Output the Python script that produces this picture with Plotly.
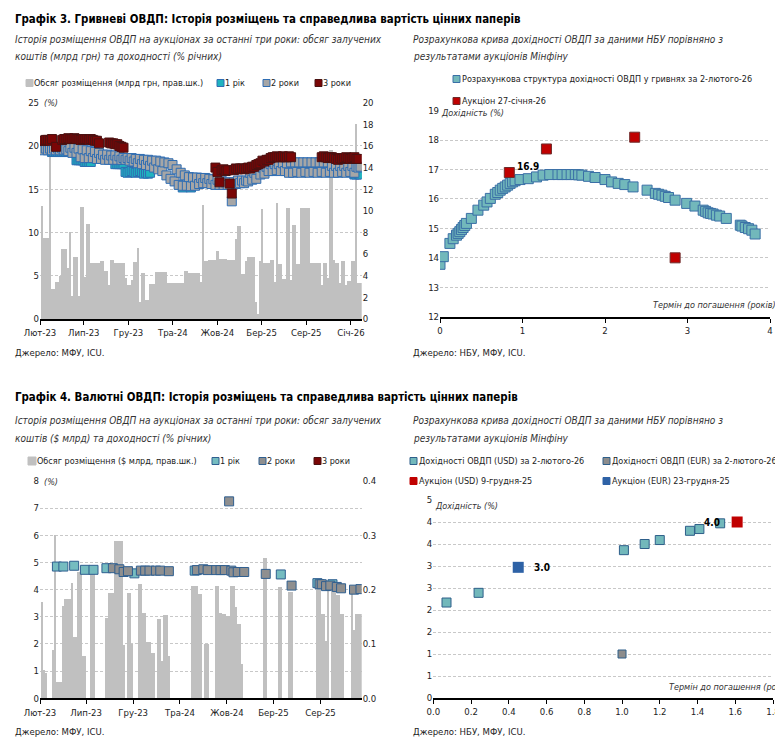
import pandas as pd
import plotly.graph_objects as go

PAGE_W, PAGE_H = 783, 750
OFF = 8  # browser body margin
W, H = PAGE_W - OFF, PAGE_H - OFF
FONT = "Liberation Sans Narrow, Arial Narrow, DejaVu Sans Condensed, sans-serif"

# ================= Графік 3, left: UAH auctions (weekly) =================
uah_first_week = "2023-02-07"
uah_volume = [
    10.5, 7.5, 7.5, 7.5, 15.9, 2.8, 2.8, 3.45, 3.45, 4.0,
    6.5, 6.5, 6.5, 4.7, 8.1, 2.2, 5.8, 5.8, 2.2, 10.4,
    10.4, 3.9, 8.8, 8.8, 5.2, 5.2, 5.2, 5.2, 5.2, 5.4,
    5.4, 4.5, 4.5, 3.2, 5.5, 5.5, 5.2, 5.2, 5.2, 5.2,
    5.2, 3.8, 3.2, 3.2, 3.6, 5.3, 5.3, 6.6, 1.6, 4.3,
    4.3, 1.8, 1.8, 3.3, 3.3, 3.3, 4.4, 4.4, 4.4, 4.4,
    4.4, 4.4, 3.4, 3.4, 3.4, 3.4, 3.4, 3.4, 3.4, 3.4,
    4.5, 4.5, 4.3, 4.3, 4.3, 4.3, 4.3, 4.3, 3.45, 10.6,
    5.4, 5.4, 5.5, 5.5, 5.5, 5.5, 6.3, 5.55, 5.55, 5.55,
    5.55, 5.45, 5.45, 5.45, 5.45, 7.4, 8.6, 8.6, 4.2, 4.2,
    5.4, 5.8, 5.8, 5.8, 5.8, 1.6, 0.5, 5.4, 10.2, 5.2,
    5.2, 5.2, 5.5, 5.5, 3.45, 10.8, 5.1, 5.1, 3.7, 3.7,
    10.3, 10.3, 3.6, 8.7, 8.7, 5.1, 5.1, 10.3, 10.3, 10.3,
    10.3, 10.3, 5.2, 5.2, 5.2, 5.2, 5.2, 3.15, 5.2, 5.2,
    3.8, 15.7, 15.7, 5.45, 5.2, 5.2, 3.4, 5.4, 5.4, 3.15,
    3.5, 3.5, 5.4, 5.4, 18.1, 3.4, 3.4,
]
N = None
uah_1y = [
    N, N, N, N, N, 19.3, 19.3, 19.3, 19.3, 19.3,
    19.3, 19.3, 19.3, 19.3, N, N, N, 18.35, 18.35, 18.35,
    18.35, 18.15, 18.15, 18.15, 18.15, N, N, N, N, N,
    N, N, N, N, N, N, 17.9, 17.9, 17.9, 17.9,
    17.9, 17.0, 16.9, 17.0, 17.1, 17.0, 16.9, 17.0, 17.1, 17.0,
    16.8, 16.9, 16.8, 16.9, N, N, N, N, N, N,
    N, N, N, N, N, N, N, N, N, 15.2,
    N, N, N, 15.2, N, N, N, N, N, N,
    N, N, N, N, N, N, N, N, N, N,
    N, N, N, N, N, N, N, N, N, N,
    N, N, N, N, N, N, N, N, N, N,
    N, N, N, N, N, N, N, N, N, N,
    N, N, N, N, N, N, N, N, N, N,
    N, N, N, N, N, N, N, N, N, N,
    N, N, N, N, N, N, N, N, N, N,
    N, N, N, 16.7, 16.7, 16.8, 16.7,
]
uah_2y = [
    19.7, 19.5, 19.7, 19.5, 19.7, 19.5, 19.7, 19.5, 19.7, 19.5,
    19.7, 19.5, 19.6, 19.4, 19.8, 19.2, 19.8, 19.2, 19.7, 18.7,
    19.6, 18.6, 19.5, 18.6, 19.4, 18.6, 19.3, 18.5, 19.2, 18.5,
    19.0, 18.4, 19.0, 18.4, 18.9, 18.4, 18.9, 18.4, 18.8, 18.4,
    18.6, 18.4, 18.6, 18.3, 18.6, 18.2, 18.5, 18.0, 18.5, 17.9,
    18.4, 17.8, 18.4, 17.7, 18.3, 17.5, 18.3, 17.3, 18.2, 17.1,
    18.1, 16.6, 18.0, 16.2, 17.8, 15.9, 17.3, 15.5, 16.9, 15.4,
    16.6, 15.4, 16.4, 15.35, 16.35, 15.4, 16.35, 15.6, 16.3, 15.7,
    16.3, 15.7, 16.2, 15.6, 16.15, 15.5, 16.1, 15.5, 16.0, 15.5,
    15.8, 15.5, 15.8, 13.6, 15.8, 15.6, 16.0, 15.7, 16.0, 15.7,
    16.0, 15.9, 16.9, 16.1, 16.9, 16.2, 17.5, 16.7, 17.5, 16.8,
    17.6, 17.1, 17.9, 17.1, 17.9, 17.2, 17.9, 17.1, 18.0, 17.1,
    18.0, 16.9, 18.1, 16.9, 18.1, 17.0, 18.1, 16.9, 18.1, 17.0,
    18.1, 16.9, 18.1, 17.0, 18.1, 16.9, 18.1, 17.0, 18.1, 16.9,
    18.1, 17.0, 17.7, 16.9, 17.7, 16.9, 17.7, 17.0, 17.7, 16.9,
    17.7, 17.0, 17.7, 16.9, 17.6, 17.5, 17.6,
]
uah_3y = [
    20.6, 20.6, 20.7, 20.7, 20.6, 20.8, N, 19.9, N, N,
    20.7, 20.8, 20.8, 20.9, 20.8, 20.8, 20.9, 20.8, 20.8, 20.7,
    20.8, 20.8, 20.8, 20.7, 20.8, 20.7, 20.6, 20.6, 20.3, N,
    N, N, N, 20.4, 20.3, 20.3, 20.2, 20.2, 20.0, 19.9,
    19.8, N, N, N, N, N, N, N, N, N,
    N, N, N, N, N, N, N, N, N, N,
    N, N, N, N, N, N, N, N, N, N,
    N, N, N, N, N, N, N, N, N, N,
    N, N, N, N, N, 17.5, 17.0, 15.8, 17.2, 17.3,
    17.1, 17.2, 15.65, 14.5, 17.2, 17.4, 17.3, 17.4, 17.4, 17.3,
    17.4, 17.5, 17.4, 17.6, 17.6, 17.8, 17.9, 18.0, 18.3, 18.2,
    18.4, 18.4, 18.6, 18.7, 18.7, 18.8, 18.7, 18.7, 18.8, 18.7,
    18.7, 18.8, 18.7, N, N, N, N, N, N, N,
    N, N, N, N, N, N, N, 18.7, 18.8, 18.7,
    18.6, 18.7, 18.7, 18.6, 18.5, 18.4, 18.6, 18.5, 18.6, 18.7,
    18.6, 18.5, 18.6, 18.7, 18.5, 18.5, N,
]
uah_tick_dates = ["2023-02-01", "2023-07-01", "2023-12-01", "2024-05-01",
                  "2024-10-01", "2025-03-01", "2025-08-01", "2026-01-01"]
uah_tick_text = ["Лют-23", "Лип-23", "Гру-23", "Тра-24", "Жов-24", "Бер-25", "Сер-25", "Січ-26"]

# ================= Графік 3, right: NBU UAH curve =================
curve_term = [0.00, 0.04, 0.12, 0.16, 0.20, 0.22, 0.24, 0.26, 0.28, 0.30, 0.32, 0.38,
              0.46, 0.53, 0.57, 0.61, 0.67, 0.70, 0.73, 0.76, 0.79, 0.82, 0.85, 0.88,
              0.91, 0.97, 1.07, 1.17, 1.25, 1.33, 1.43, 1.48, 1.54, 1.59, 1.64, 1.68,
              1.72, 1.80, 1.88, 2.00, 2.08, 2.16, 2.24, 2.34, 2.51, 2.61, 2.65, 2.69,
              2.73, 2.77, 2.85, 2.99, 3.09, 3.19, 3.22, 3.25, 3.28, 3.31, 3.35, 3.39,
              3.47, 3.64, 3.66, 3.70, 3.74, 3.78, 3.82]
curve_yield = [13.78, 14.04, 14.49, 14.65, 14.77, 14.83, 14.89, 14.96, 15.03, 15.10, 15.17, 15.34,
               15.62, 15.79, 15.90, 16.02, 16.16, 16.22, 16.30, 16.36, 16.41, 16.47, 16.53, 16.58,
               16.62, 16.66, 16.69, 16.75, 16.81, 16.83, 16.83, 16.83, 16.83, 16.83, 16.83, 16.82,
               16.81, 16.77, 16.73, 16.66, 16.58, 16.53, 16.49, 16.41, 16.30, 16.19, 16.16, 16.13,
               16.09, 16.05, 15.96, 15.85, 15.76, 15.62, 15.58, 15.53, 15.51, 15.49, 15.45, 15.42,
               15.34, 15.11, 15.08, 15.03, 14.99, 14.94, 14.81]
auction_term = [0.84, 1.29, 2.36, 2.85]
auction_yield = [16.9, 17.7, 18.1, 14.0]

# ================= Графік 4, left: FX auctions (weekly) =================
fx_first_week = "2023-02-07"
fx_volume = [
    0.178, 0.053, 0.047, 0, 0, 0.088, 0.30, 0.03, 0.03, 0.03,
    0.169, 0.183, 0.183, 0.183, 0.212, 0.112, 0.112, 0.233, 0.233, 0.078,
    0.078, 0, 0, 0.23, 0.23, 0, 0, 0, 0, 0,
    0.147, 0.193, 0.193, 0.193, 0.289, 0.289, 0.289, 0.289, 0.098, 0,
    0.193, 0.193, 0.1, 0, 0, 0.21, 0.21, 0.157, 0.157, 0.104,
    0.104, 0.083, 0.083, 0, 0.146, 0.146, 0.068, 0.153, 0.153, 0.077,
    0, 0, 0, 0, 0, 0, 0, 0, 0, 0,
    0.207, 0.207, 0.207, 0.192, 0.192, 0, 0.1, 0.1, 0, 0,
    0, 0.207, 0.207, 0.157, 0.155, 0.155, 0.152, 0.152, 0.207, 0.207,
    0.168, 0.137, 0.137, 0.063, 0, 0, 0, 0, 0, 0,
    0, 0, 0, 0.258, 0.258, 0, 0, 0, 0, 0,
    0.204, 0.204, 0, 0, 0, 0.196, 0.196, 0, 0, 0,
    0, 0, 0, 0, 0, 0, 0, 0, 0.204, 0.204,
    0.155, 0.155, 0.106, 0.204, 0, 0.204, 0.204, 0.19, 0.19, 0.155,
    0.155, 0, 0, 0, 0.196, 0.125, 0.155, 0.155, 0.155,
]
fx_1y = [
    N, N, N, N, N, N, N, 4.85, N, N,
    4.85, N, N, N, N, 4.88, N, N, N, N,
    4.73, N, N, N, 4.73, N, N, N, N, N,
    4.79, N, N, N, N, N, N, N, N, N,
    N, N, N, 4.6, N, N, N, N, N, N,
    N, N, N, N, N, N, N, N, N, N,
    N, N, N, N, N, N, N, N, N, N,
    N, 4.70, N, N, N, N, N, N, N, N,
    N, N, N, N, N, N, N, N, N, N,
    N, N, N, N, N, N, N, N, N, N,
    N, N, N, N, N, N, N, N, N, N,
    N, 4.56, N, N, N, N, N, N, N, N,
    N, N, N, N, N, N, N, N, 4.24, N,
    N, N, N, N, N, 4.2, N, N, N, N,
    N, N, N, N, N, N, N, N, N,
]
fx_2y = [
    N, N, N, N, N, N, N, N, N, N,
    N, N, N, N, N, N, N, N, N, N,
    N, N, N, N, N, N, N, N, N, N,
    N, N, N, 4.79, N, N, 4.75, N, 4.65, N,
    4.68, N, N, N, N, N, 4.70, N, 4.70, N,
    4.70, N, N, 4.70, N, 4.70, N, N, N, 4.68,
    N, N, N, N, N, N, N, N, N, N,
    N, N, 4.72, N, N, 4.75, N, 4.72, N, N,
    N, 4.72, N, 4.72, N, 4.72, N, 7.25, 4.70, 4.64,
    N, 4.65, N, N, 4.65, N, N, N, N, N,
    N, N, N, N, 4.58, N, N, N, N, N,
    N, N, N, N, N, N, 4.15, N, N, N,
    N, N, N, N, N, N, N, N, N, 4.2,
    4.2, N, 4.13, N, 4.15, N, N, 4.1, N, 4.05,
    N, N, N, N, N, 4.0, N, N, 4.02,
]
fx_tick_dates = uah_tick_dates[:7]
fx_tick_text = uah_tick_text[:7]

# ================= Графік 4, right: NBU FX curve =================
usd_term = [0.07, 0.24, 1.01, 1.12, 1.20, 1.36, 1.41, 1.52]
usd_yield = [2.17, 2.39, 3.36, 3.50, 3.59, 3.80, 3.84, 3.97]
eur_term = [1.00]
eur_yield = [1.00]
usd_auc_term = [1.61]
usd_auc_yield = [4.0]
eur_auc_term = [0.45]
eur_auc_yield = [2.97]
fx_curve_ytick_vals = [0, 0.5, 1, 1.5, 2, 2.5, 3, 3.5, 4, 4.5]
fx_curve_ytick_text = ["0", "1", "1", "2", "2", "3", "3", "4", "4", "5"]


# ================= helpers (page pixels -> paper fractions) =================
def X(p):
    return (p - OFF) / W


def Y(p):
    return 1 - (p - OFF) / H


uah_dates = pd.date_range(uah_first_week, periods=len(uah_volume), freq="7D")
fx_dates = pd.date_range(fx_first_week, periods=len(fx_volume), freq="7D")

C_BAR = "#c0c0c0"
C_GRID = "#c8c8c8"
TXT = "#333333"
TICKF = dict(family=FONT, size=9.5, color="#222222")

fig = go.Figure()

# ---- top-left ----
fig.add_trace(go.Bar(x=uah_dates, y=uah_volume, marker=dict(color=C_BAR, line=dict(width=0)),
                     xaxis="x", yaxis="y"))
fig.add_trace(go.Scatter(x=uah_dates, y=uah_1y, mode="markers", xaxis="x", yaxis="y2",
                         marker=dict(symbol="square", size=9, color="#1fb3bf",
                                     line=dict(color="#2f6db3", width=1))))
fig.add_trace(go.Scatter(x=uah_dates, y=uah_2y, mode="markers", xaxis="x", yaxis="y2",
                         marker=dict(symbol="square", size=9, color="#a6a6a6",
                                     line=dict(color="#2f6db3", width=1))))
fig.add_trace(go.Scatter(x=uah_dates, y=uah_3y, mode="markers", xaxis="x", yaxis="y2",
                         marker=dict(symbol="square", size=9, color="#7a0606",
                                     line=dict(color="#4a1212", width=1))))

# ---- top-right ----
fig.add_trace(go.Scatter(x=curve_term, y=curve_yield, mode="markers", xaxis="x2", yaxis="y3",
                         marker=dict(symbol="square", size=10, color="#72b8bb",
                                     line=dict(color="#3a6fa6", width=1))))
fig.add_trace(go.Scatter(x=auction_term, y=auction_yield, mode="markers", xaxis="x2", yaxis="y3",
                         marker=dict(symbol="square", size=10, color="#c00000",
                                     line=dict(color="#6e2b2b", width=1))))

# ---- bottom-left ----
fig.add_trace(go.Bar(x=fx_dates, y=fx_volume, marker=dict(color=C_BAR, line=dict(width=0)),
                     xaxis="x3", yaxis="y4"))
fig.add_trace(go.Scatter(x=fx_dates, y=fx_1y, mode="markers", xaxis="x3", yaxis="y5",
                         marker=dict(symbol="square", size=9, color="#75bcc0",
                                     line=dict(color="#2f5f90", width=1))))
fig.add_trace(go.Scatter(x=fx_dates, y=fx_2y, mode="markers", xaxis="x3", yaxis="y5",
                         marker=dict(symbol="square", size=9, color="#8f8f8f",
                                     line=dict(color="#2f5f90", width=1))))

# ---- bottom-right ----
fig.add_trace(go.Scatter(x=usd_term, y=usd_yield, mode="markers", xaxis="x4", yaxis="y6",
                         marker=dict(symbol="square", size=9, color="#72b8bb",
                                     line=dict(color="#2e5f8a", width=1))))
fig.add_trace(go.Scatter(x=eur_term, y=eur_yield, mode="markers", xaxis="x4", yaxis="y6",
                         marker=dict(symbol="square", size=8, color="#8c8c8c",
                                     line=dict(color="#2e5f8a", width=1))))
fig.add_trace(go.Scatter(x=usd_auc_term, y=usd_auc_yield, mode="markers", xaxis="x4", yaxis="y6",
                         marker=dict(symbol="square", size=11, color="#c00000",
                                     line=dict(color="#c00000", width=0))))
fig.add_trace(go.Scatter(x=eur_auc_term, y=eur_auc_yield, mode="markers", xaxis="x4", yaxis="y6",
                         marker=dict(symbol="square", size=11, color="#2e62a6",
                                     line=dict(color="#2e62a6", width=0))))

xline = dict(showline=True, linecolor="#000000", linewidth=2, ticks="outside", ticklen=4,
             tickcolor="#000000", tickwidth=1, showgrid=False, zeroline=False, tickfont=TICKF,
             automargin=False)
ygrid = dict(showgrid=True, gridcolor=C_GRID, griddash="3px,2px", gridwidth=1, zeroline=False,
             showline=False, ticks="", tickfont=TICKF, automargin=False)
ynogrid = dict(showgrid=False, zeroline=False, showline=False, ticks="", tickfont=TICKF,
               automargin=False)

fig.update_layout(
    width=W, height=H, margin=dict(l=0, r=0, t=0, b=0, pad=0, autoexpand=False),
    paper_bgcolor="white", plot_bgcolor="white", showlegend=False,
    bargap=0, font=dict(family=FONT, size=10, color="#222222"),
    xaxis=dict(domain=[X(40), X(361.7)], anchor="y", type="date",
               range=["2023-02-01", "2026-02-07"], tickvals=uah_tick_dates,
               ticktext=uah_tick_text, **xline),
    yaxis=dict(domain=[Y(319), Y(102.7)], anchor="x", side="right", range=[0, 20], dtick=2,
               **ynogrid),
    yaxis2=dict(overlaying="y", anchor="x", side="left", range=[0, 25], dtick=5, **ygrid),
    xaxis2=dict(domain=[X(440), X(770)], anchor="y3", range=[0, 4], dtick=1, **xline),
    yaxis3=dict(domain=[Y(316.7), Y(110.7)], anchor="x2", range=[12, 19], dtick=1, **ygrid),
    xaxis3=dict(domain=[X(40), X(361.7)], anchor="y4", type="date",
                range=["2023-02-01", "2025-12-13"], tickvals=fx_tick_dates,
                ticktext=fx_tick_text, **xline),
    yaxis4=dict(domain=[Y(698.3), Y(481)], anchor="x3", side="right", range=[0, 0.4], dtick=0.1,
                tickformat=".1f", **ynogrid),
    yaxis5=dict(overlaying="y4", anchor="x3", side="left", range=[0, 8], dtick=1, **ygrid),
    xaxis4=dict(domain=[X(433.3), X(773)], anchor="y6", range=[0, 1.8], dtick=0.2,
                tickformat=".1f", **xline),
    yaxis6=dict(domain=[Y(698), Y(500)], anchor="x4", range=[0, 4.5],
                tickvals=fx_curve_ytick_vals, ticktext=fx_curve_ytick_text, **ygrid),
)

ann = []
shapes = []


def text(x, y, s, size=9, bold=False, italic=False, color="#222222", anchor="left"):
    if bold:
        s = "<b>" + s + "</b>"
    if italic:
        s = "<i>" + s + "</i>"
    ann.append(dict(x=X(x), y=Y(y), xref="paper", yref="paper", text=s, showarrow=False,
                    xanchor=anchor, yanchor="middle", borderpad=0,
                    font=dict(family=FONT, size=size, color=color)))


def swatch(x, y, fill, line=None, s=7):
    shapes.append(dict(type="rect", xref="paper", yref="paper", x0=X(x), x1=X(x + s),
                       y0=Y(y + s / 2), y1=Y(y - s / 2), fillcolor=fill,
                       line=dict(color=line or fill, width=1)))


TS, SS = 11.4, 10
# titles
text(14, 19, "Графік 3. Гривневі ОВДП: Історія розміщень та справедлива вартість цінних паперів",
     size=TS, bold=True, color="#000000")
text(14, 40, "Історія розміщення ОВДП на аукціонах за останні три роки: обсяг залучених",
     size=SS, italic=True, color=TXT)
text(14, 57, "коштів (млрд грн) та доходності (% річних)", size=SS, italic=True, color=TXT)
text(412, 40, "Розрахункова крива дохідності ОВДП за даними НБУ порівняно з",
     size=SS, italic=True, color=TXT)
text(412, 57, "результатами аукціонів Мінфіну", size=SS, italic=True, color=TXT)

text(14, 397, "Графік 4. Валютні ОВДП: Історія розміщень та справедлива вартість цінних паперів",
     size=TS, bold=True, color="#000000")
text(14, 420, "Історія розміщення ОВДП на аукціонах за останні три роки: обсяг залучених",
     size=SS, italic=True, color=TXT)
text(14, 438, "коштів ($ млрд) та доходності (% річних)", size=SS, italic=True, color=TXT)
text(412, 420, "Розрахункова крива дохідності ОВДП за даними НБУ порівняно з",
     size=SS, italic=True, color=TXT)
text(412, 438, "результатами аукціонів Мінфіну", size=SS, italic=True, color=TXT)

# legends top-left
swatch(26, 83, C_BAR)
text(33, 83, "Обсяг розміщення (млрд грн, прав.шк.)")
swatch(217, 83, "#1fb3bf", "#2f6db3")
text(224, 83, "1 рік")
swatch(263, 83, "#a6a6a6", "#2f6db3")
text(270, 83, "2 роки")
swatch(315, 83, "#7a0606", "#4a1212")
text(322, 83, "3 роки")

# legends top-right
swatch(453, 79, "#72b8bb", "#3a6fa6")
text(461, 79, "Розрахункова структура дохідності ОВДП у гривнях за 2-лютого-26")
swatch(453, 101, "#c00000", "#6e2b2b")
text(461, 101, "Аукціон 27-січня-26")

# legends bottom-left
swatch(28, 461, C_BAR, s=8)
text(36, 461, "Обсяг розміщення ($ млрд, прав.шк.)")
swatch(212, 461, "#75bcc0", "#2f5f90")
text(219, 461, "1 рік")
swatch(259, 461, "#8f8f8f", "#2f5f90")
text(266, 461, "2 роки")
swatch(314, 461, "#7a0606", "#4a1212")
text(321, 461, "3 роки")

# legends bottom-right
swatch(410, 461, "#72b8bb", "#2e5f8a")
text(418, 461, "Дохідності ОВДП (USD) за 2-лютого-26")
swatch(603, 461, "#8c8c8c", "#2e5f8a")
text(611, 461, "Дохідності ОВДП (EUR) за 2-лютого-26")
swatch(410, 481, "#c00000")
text(418, 481, "Аукціон (USD) 9-грудня-25")
swatch(603, 481, "#2e62a6")
text(611, 481, "Аукціон (EUR) 23-грудня-25")

# axis titles
text(43, 103, "(%)", italic=True, color=TXT)
text(43, 482, "(%)", italic=True, color=TXT)
text(440, 113, "Дохідність (%)", italic=True, color=TXT)
text(777, 305, "Термін до погашення (років)", italic=True, color=TXT, anchor="right")
text(434, 506, "Дохідність (%)", italic=True, color=TXT)
text(668, 687, "Термін до погашення (років)", italic=True, color=TXT)

# sources
text(14, 352, "Джерело: МФУ, ICU.", size=9.5)
text(412, 352, "Джерело: НБУ, МФУ, ICU.", size=9.5)
text(14, 731, "Джерело: МФУ, ICU.", size=9.5)
text(412, 731, "Джерело: НБУ, МФУ, ICU.", size=9.5)

# data labels
LBL = dict(family=FONT, size=10, color="#000000")
ann.append(dict(x=auction_term[0], y=auction_yield[0], xref="x2", yref="y3",
                text="<b>%.1f</b>" % auction_yield[0], showarrow=False, xanchor="left",
                yanchor="middle", xshift=6, yshift=6, font=LBL))
ann.append(dict(x=usd_auc_term[0], y=usd_auc_yield[0], xref="x4", yref="y6",
                text="<b>%.1f</b>" % usd_auc_yield[0], showarrow=False, xanchor="right",
                yanchor="middle", xshift=-15, font=LBL))
ann.append(dict(x=eur_auc_term[0], y=eur_auc_yield[0], xref="x4", yref="y6",
                text="<b>%.1f</b>" % eur_auc_yield[0], showarrow=False, xanchor="left",
                yanchor="middle", xshift=14, font=LBL))

fig.update_layout(annotations=ann, shapes=shapes)
fig.write_html("out.html")
